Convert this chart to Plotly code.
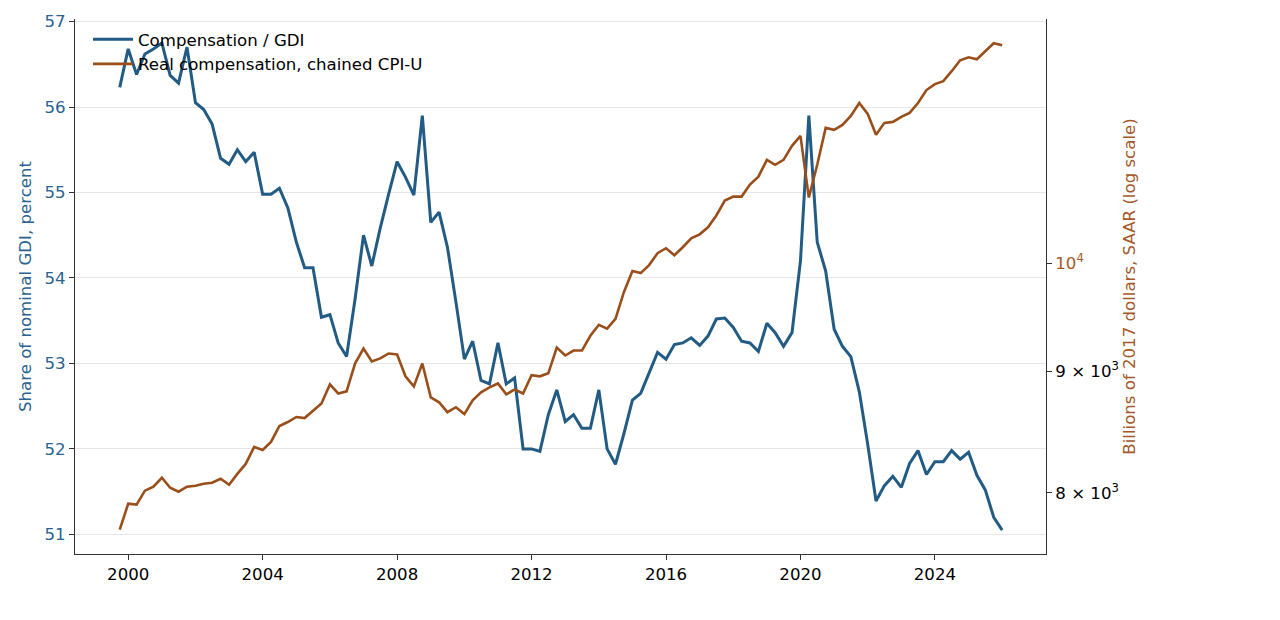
import pandas as pd
import plotly.graph_objects as go

# Quarterly observations, 1999Q4 .. 2026Q1
quarter_start = "1999-10-01"

comp_share_gdi = [
    56.23, 56.68, 56.38, 56.62, 56.68, 56.75, 56.37, 56.28, 56.70, 56.05,
    55.97, 55.80, 55.40, 55.33, 55.50, 55.36, 55.47, 54.98, 54.98, 55.05,
    54.82, 54.42, 54.12, 54.12, 53.54, 53.57, 53.24, 53.08, 53.75, 54.50,
    54.14, 54.58, 54.98, 55.36, 55.18, 54.97, 55.90, 54.65, 54.77, 54.36,
    53.72, 53.05, 53.26, 52.80, 52.76, 53.24, 52.76, 52.83, 52.00, 52.00,
    51.97, 52.40, 52.69, 52.32, 52.40, 52.24, 52.24, 52.69, 52.00, 51.82,
    52.18, 52.57, 52.65, 52.88, 53.13, 53.05, 53.22, 53.24, 53.30, 53.21,
    53.32, 53.52, 53.53, 53.42, 53.26, 53.24, 53.14, 53.47, 53.36, 53.20,
    53.36, 54.20, 55.90, 54.42, 54.08, 53.40, 53.20, 53.08, 52.67, 52.05,
    51.39, 51.57, 51.68, 51.55, 51.83, 51.98, 51.70, 51.85, 51.85, 51.98,
    51.88, 51.96, 51.69, 51.52, 51.20, 51.05,
]

real_comp_chained_cpi = [
    7719, 7916, 7909, 8017, 8048, 8118, 8040, 8009, 8048, 8056,
    8071, 8079, 8110, 8063, 8149, 8228, 8365, 8341, 8406, 8537,
    8570, 8612, 8603, 8662, 8726, 8889, 8811, 8829, 9071, 9204,
    9089, 9116, 9160, 9151, 8959, 8872, 9071, 8778, 8736, 8652,
    8694, 8636, 8753, 8820, 8863, 8897, 8803, 8845, 8811, 8968,
    8959, 8985, 9212, 9142, 9186, 9186, 9319, 9419, 9383, 9474,
    9724, 9923, 9904, 9981, 10097, 10146, 10077, 10156, 10244, 10284,
    10354, 10474, 10627, 10668, 10668, 10793, 10876, 11056, 11003, 11056,
    11207, 11316, 10658, 11003, 11404, 11382, 11437, 11537, 11683, 11559,
    11328, 11460, 11471, 11527, 11572, 11683, 11831, 11900, 11934, 12050,
    12178, 12214, 12190, 12285, 12381, 12356,
]

year_ticks = [2000, 2004, 2008, 2012, 2016, 2020, 2024]
left_ticks = [51, 52, 53, 54, 55, 56, 57]
right_ticks = [8000, 9000, 10000]

BLUE = "#225b84"
ORANGE = "#9a4f1b"
FONT = "DejaVu Sans"
FS = 16.6

dates = pd.date_range(start=quarter_start, periods=len(comp_share_gdi), freq="QS")

fig = go.Figure()
fig.add_trace(go.Scatter(
    x=dates, y=comp_share_gdi, mode="lines", name="Compensation / GDI",
    line=dict(color=BLUE, width=3), yaxis="y",
))
fig.add_trace(go.Scatter(
    x=dates, y=real_comp_chained_cpi, mode="lines",
    name="Real compensation, chained CPI-U",
    line=dict(color=ORANGE, width=2.6), yaxis="y2",
))

right_text = [
    "8 × 10<sup>3</sup>",
    "9 × 10<sup>3</sup>",
    "<span style='color:%s'>10<sup>4</sup></span>" % "#a5592a",
]

fig.update_layout(
    width=1280, height=620,
    margin=dict(l=75, r=234, t=17, b=66),
    paper_bgcolor="white", plot_bgcolor="white",
    font=dict(family=FONT, size=FS, color="black"),
    showlegend=True,
    legend=dict(
        x=0.0134, y=0.9944, xanchor="left", yanchor="top",
        bgcolor="rgba(0,0,0,0)", font=dict(size=FS, color="black"),
        tracegroupgap=0, itemwidth=40,
    ),
    xaxis=dict(
        type="date",
        range=["1998-06-02", "2027-04-22"],
        tickvals=[pd.Timestamp(f"{y}-01-01") for y in year_ticks],
        ticktext=[str(y) for y in year_ticks],
        ticks="outside", ticklen=5, tickcolor="#333", tickwidth=1,
        showline=True, linecolor="#333", linewidth=1,
        showgrid=False, zeroline=False,
        tickfont=dict(size=FS, color="black"),
    ),
    yaxis=dict(
        range=[50.77, 57.03],
        tickvals=left_ticks, ticktext=[str(v) for v in left_ticks],
        ticks="outside", ticklen=5, tickcolor="#333", tickwidth=1,
        showline=True, linecolor="#333", linewidth=1,
        showgrid=True, gridcolor="#e6e6e6", gridwidth=1, zeroline=False,
        tickfont=dict(size=FS, color="#2b6390"),
        title=dict(text="Share of nominal GDI, percent",
                   font=dict(size=FS, color="#2b6390"), standoff=8),
    ),
    yaxis2=dict(
        type="log", overlaying="y", side="right",
        range=[3.8773, 4.1030],
        tickvals=right_ticks, ticktext=right_text,
        ticks="outside", ticklen=5, tickcolor="#333", tickwidth=1,
        showline=True, linecolor="#333", linewidth=1,
        showgrid=False, zeroline=False,
        tickfont=dict(size=FS, color="black"),
        title=dict(text="Billions of 2017 dollars, SAAR (log scale)",
                   font=dict(size=FS, color="#a5592a"), standoff=5),
    ),
)

fig.write_html("out.html")
